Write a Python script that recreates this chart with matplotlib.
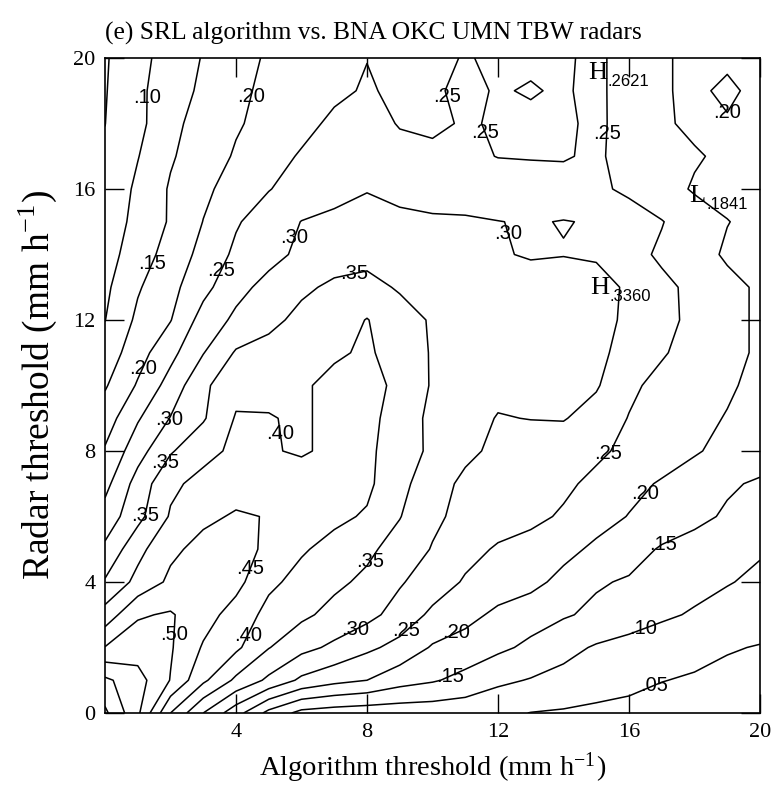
import numpy as np
import matplotlib
matplotlib.use("Agg")
import matplotlib.pyplot as plt

plt.rcParams['font.family'] = ['Liberation Serif', 'DejaVu Serif']
plt.rcParams['mathtext.fontset'] = 'stix'

# grid of thresholds (mm/h)
alg_thr = np.arange(0, 21)
radar_thr = np.arange(0, 21)

# skill score, one row per radar threshold 0..20,
# columns are algorithm threshold 0..20
score = np.array([
    [.66, .56, .40, .30, .22, .135, .085, .075, .07, .07, .07, .068, .06, .049, .045, .04, .037, .034, .031, .028, .025],
    [.61, .57, .498, .41, .34, .29, .24, .215, .20, .17, .155, .135, .11, .097, .085, .072, .062, .051, .046, .04, .035],
    [.502, .525, .505, .445, .41, .352, .315, .29, .26, .235, .195, .18, .16, .14, .115, .095, .083, .072, .062, .053, .048],
    [.42, .495, .505, .47, .43, .385, .36, .335, .315, .28, .24, .215, .19, .17, .155, .14, .125, .108, .095, .08, .068],
    [.355, .415, .46, .47, .465, .41, .385, .36, .34, .305, .275, .245, .225, .215, .185, .155, .145, .13, .115, .103, .09],
    [.31, .385, .44, .465, .47, .44, .405, .385, .36, .33, .297, .265, .245, .235, .215, .19, .17, .145, .135, .125, .105],
    [.27, .335, .405, .44, .455, .448, .425, .41, .395, .352, .31, .285, .27, .26, .245, .22, .198, .18, .16, .145, .135],
    [.235, .32, .39, .415, .43, .425, .418, .415, .41, .365, .32, .29, .28, .27, .258, .24, .215, .195, .175, .155, .145],
    [.205, .28, .345, .385, .41, .403, .396, .408, .41, .375, .34, .31, .29, .28, .27, .258, .24, .225, .205, .185, .17],
    [.175, .245, .302, .345, .404, .402, .395, .41, .41, .385, .335, .315, .298, .301, .303, .28, .248, .23, .21, .198, .185],
    [.145, .205, .27, .34, .385, .39, .395, .41, .415, .39, .345, .325, .31, .315, .32, .305, .26, .235, .22, .205, .19],
    [.12, .18, .235, .298, .355, .37, .385, .395, .405, .385, .345, .33, .32, .32, .32, .31, .285, .255, .23, .21, .195],
    [.099, .16, .198, .27, .31, .335, .365, .375, .402, .37, .345, .335, .325, .325, .325, .318, .29, .262, .24, .21, .195],
    [.09, .145, .185, .235, .285, .315, .34, .36, .365, .345, .34, .335, .33, .325, .33, .325, .29, .26, .24, .21, .195],
    [.08, .125, .17, .215, .26, .285, .31, .325, .335, .33, .325, .315, .305, .295, .298, .292, .265, .243, .215, .195, .185],
    [.07, .115, .155, .201, .245, .275, .301, .31, .315, .308, .305, .305, .301, .296, .302, .296, .275, .252, .225, .201, .19],
    [.06, .11, .155, .19, .22, .248, .27, .285, .298, .29, .285, .28, .27, .265, .265, .26, .24, .22, .195, .19, .18],
    [.055, .098, .145, .175, .205, .23, .255, .265, .27, .26, .262, .258, .249, .248, .247, .256, .235, .21, .205, .19, .18],
    [.0495, .085, .14, .165, .195, .215, .235, .26, .262, .248, .24, .255, .245, .242, .238, .265, .22, .207, .19, .195, .18],
    [.047, .09, .125, .16, .19, .21, .23, .24, .255, .24, .245, .258, .247, .253, .245, .262, .225, .205, .19, .21, .185],
    [.045, .085, .12, .153, .185, .205, .22, .235, .249, .24, .242, .252, .245, .243, .243, .262, .225, .205, .19, .19, .18],
])

levels = [.05, .10, .15, .20, .25, .30, .35, .40, .45, .50, .55, .60, .65]

# where the contour labels sit (algorithm, radar threshold)
label_pos = [
    (1.37, 18.8), (4.5, 18.8), (10.7, 18.9), (11.5, 17.7), (15.2, 17.7), (18.6, 17.8),
    (1.47, 13.7), (3.6, 13.5), (6.1, 14.4), (7.6, 13.4), (11.85, 14.5),
    (1.22, 10.5), (2.05, 8.9), (2.05, 7.5), (1.43, 6.0), (5.2, 8.5),
    (4.5, 4.4), (2.0, 2.4), (4.5, 2.3), (7.6, 2.6), (8.3, 4.5), (9.3, 2.4),
    (10.8, 2.3), (10.5, 1.2), (16.5, 2.4), (16.8, 0.8), (17.1, 5.0), (16.5, 6.7), (15.6, 7.7),
]

# extrema markers: letter, value text, letter position
extrema = [
    ("H", ".2621", 15.05, 19.54),
    ("L", ".1841", 18.08, 15.79),
    ("H", ".3360", 15.11, 12.98),
]

fig = plt.figure(figsize=(7.76, 7.87), dpi=100)
ax = fig.add_axes([105 / 776, 1 - 713 / 787, 655 / 776, 655 / 787])

cs = ax.contour(alg_thr, radar_thr, score, levels=levels, colors='black', linewidths=1.1)
texts = ax.clabel(cs, inline=False, manual=label_pos, fontsize=14.5,
                  fmt=lambda v: f"{v:.2f}".lstrip("0"))
for t in texts:
    t.set_rotation(0)
    t.set_fontfamily('Liberation Sans')

for letter, val, x, y in extrema:
    ax.text(x, y, letter, fontsize=19, ha='center', va='center')
    ax.text(x + 0.3, y - 0.27, val, fontsize=12, ha='left', va='center',
            family='Liberation Sans')

ax.set_xlim(0, 20)
ax.set_ylim(0, 20)
ax.set_xticks([4, 8, 12, 16, 20])
ax.set_yticks([0, 4, 8, 12, 16, 20])
ax.tick_params(direction='in', length=14, width=1, top=True, right=True,
               labelsize=16, pad=7)
for s in ax.spines.values():
    s.set_linewidth(1.2)

ax.set_title("(e) SRL algorithm vs. BNA OKC UMN TBW radars", loc='left',
             fontsize=18.4, pad=13)
ax.set_xlabel(r"Algorithm threshold (mm h$^{\mathregular{-1}}$)", fontsize=20.5, labelpad=6)
ax.set_ylabel(r"Radar threshold (mm h$^{\mathregular{-1}}$)", fontsize=27, labelpad=10)

fig.savefig("out.png", dpi=100)
